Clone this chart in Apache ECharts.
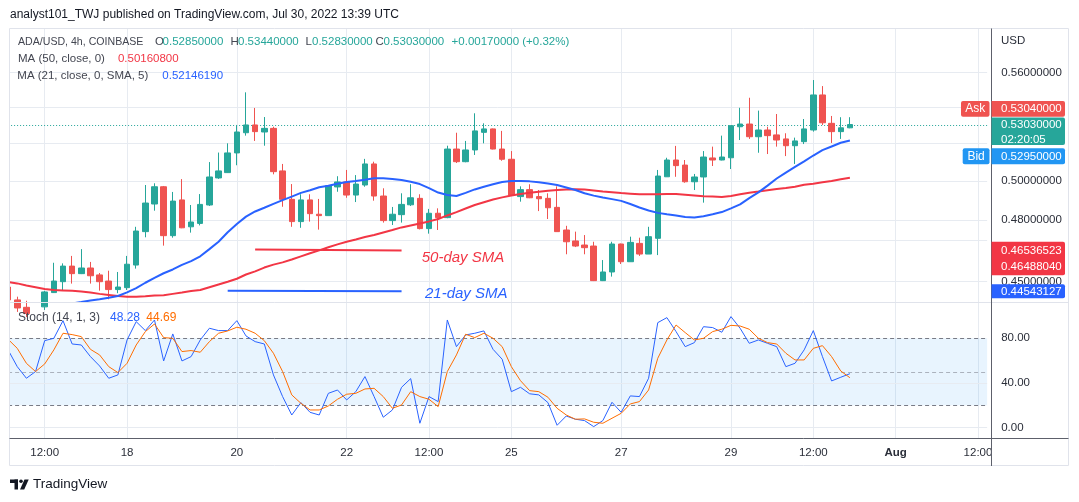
<!DOCTYPE html>
<html>
<head>
<meta charset="utf-8">
<title>ADA/USD 4h</title>
<script src="https://cdn.jsdelivr.net/npm/echarts@6/dist/echarts.min.js"></script>
<style>
html, body { margin: 0; padding: 0; background: #fff; }
#chart { width: 1079px; height: 502px; }
</style>
</head>
<body>
<div id="chart"></div>
<script>
var chartDom = document.getElementById('chart');
var myChart = echarts.init(chartDom);
var FONT = "'Liberation Sans', Arial, sans-serif";

// 4h candles (chart local time)
var startTime = Date.UTC(2022, 6, 15, 20);
var categories = [];
for (var k = 0; k < 108; k++) {
  categories.push(new Date(startTime + k * 4 * 3600 * 1000).toISOString().slice(0, 16).replace('T', ' '));
}

var tickTimes = ['2022-07-16 12:00', '2022-07-18 00:00', '2022-07-20 00:00', '2022-07-22 00:00',
  '2022-07-23 12:00', '2022-07-25 00:00', '2022-07-27 00:00', '2022-07-29 00:00',
  '2022-07-30 12:00', '2022-08-01 00:00', '2022-08-02 12:00'];
var tickText = ['12:00', '18', '20', '22', '12:00', '25', '27', '29', '12:00', 'Aug', '12:00'];

var open = [0.4474, 0.4414, 0.4380, 0.4350, 0.4382, 0.4448, 0.4499, 0.4573, 0.4537, 0.4564,
  0.4531, 0.4502, 0.4462, 0.4471, 0.4578, 0.4741, 0.4880, 0.4969, 0.4721, 0.4901,
  0.4765, 0.4782, 0.4875, 0.5015, 0.5043, 0.5148, 0.5258, 0.5301, 0.5262, 0.5282,
  0.5052, 0.4904, 0.4791, 0.4901, 0.4828, 0.4821, 0.4968, 0.4994, 0.4926, 0.4978,
  0.5089, 0.4921, 0.4796, 0.4826, 0.4876, 0.4909, 0.4756, 0.4833, 0.4811, 0.5169,
  0.5101, 0.5164, 0.5260, 0.5279, 0.5169, 0.5114, 0.4918, 0.4954, 0.4918, 0.4909,
  0.4863, 0.4749, 0.4695, 0.4675, 0.4670, 0.4504, 0.4545, 0.4680, 0.4594, 0.4683,
  0.4631, 0.4708, 0.5021, 0.5110, 0.5083, 0.4995, 0.5020, 0.5121, 0.5110, 0.5122,
  0.5291, 0.5306, 0.5236, 0.5273, 0.5246, 0.5224, 0.5187, 0.5209, 0.5273, 0.5470,
  0.5310, 0.5264, 0.5285];
var high = [0.4483, 0.4429, 0.4410, 0.4395, 0.4456, 0.4589, 0.4586, 0.4622, 0.4655, 0.4593,
  0.4540, 0.4551, 0.4545, 0.4622, 0.4765, 0.4978, 0.4987, 0.4973, 0.4942, 0.5009,
  0.4875, 0.4931, 0.5099, 0.5150, 0.5200, 0.5301, 0.5485, 0.5396, 0.5345, 0.5291,
  0.5089, 0.4983, 0.4930, 0.4930, 0.4906, 0.4974, 0.5024, 0.5057, 0.5030, 0.5116,
  0.5101, 0.4961, 0.4865, 0.4935, 0.4982, 0.4930, 0.4855, 0.4858, 0.5187, 0.5258,
  0.5213, 0.5366, 0.5310, 0.5281, 0.5268, 0.5158, 0.4971, 0.4982, 0.4952, 0.4935,
  0.4971, 0.4770, 0.4741, 0.4724, 0.4691, 0.4602, 0.4691, 0.4682, 0.4716, 0.4711,
  0.4765, 0.5057, 0.5122, 0.5186, 0.5110, 0.5036, 0.5158, 0.5182, 0.5242, 0.5297,
  0.5397, 0.5454, 0.5381, 0.5291, 0.5362, 0.5255, 0.5231, 0.5334, 0.5556, 0.5521,
  0.5351, 0.5344, 0.5344];
var low = [0.4395, 0.4359, 0.4336, 0.4322, 0.4368, 0.4446, 0.4458, 0.4490, 0.4535, 0.4490,
  0.4457, 0.4417, 0.4445, 0.4460, 0.4561, 0.4713, 0.4846, 0.4672, 0.4711, 0.4758,
  0.4736, 0.4772, 0.4870, 0.5010, 0.5041, 0.5082, 0.5242, 0.5213, 0.5187, 0.5034,
  0.4866, 0.4765, 0.4760, 0.4791, 0.4751, 0.4821, 0.4943, 0.4912, 0.4890, 0.4969,
  0.4897, 0.4786, 0.4774, 0.4786, 0.4870, 0.4752, 0.4731, 0.4749, 0.4808, 0.5094,
  0.5098, 0.5137, 0.5200, 0.5167, 0.5106, 0.4924, 0.4892, 0.4910, 0.4844, 0.4804,
  0.4741, 0.4630, 0.4665, 0.4630, 0.4502, 0.4502, 0.4523, 0.4583, 0.4594, 0.4622,
  0.4631, 0.4626, 0.5021, 0.5021, 0.4990, 0.4952, 0.4887, 0.5078, 0.5108, 0.5062,
  0.5218, 0.5224, 0.5149, 0.5142, 0.5182, 0.5131, 0.5089, 0.5196, 0.5264, 0.5301,
  0.5202, 0.5224, 0.5283];
var close = [0.4414, 0.4377, 0.4352, 0.4382, 0.4451, 0.4502, 0.4573, 0.4537, 0.4564, 0.4527,
  0.4499, 0.4462, 0.4474, 0.4582, 0.4744, 0.4885, 0.4969, 0.4721, 0.4895, 0.4760,
  0.4789, 0.4878, 0.5020, 0.5052, 0.5148, 0.5262, 0.5301, 0.5264, 0.5282, 0.5048,
  0.4904, 0.4791, 0.4901, 0.4831, 0.4821, 0.4974, 0.4994, 0.4926, 0.4983, 0.5089,
  0.4921, 0.4796, 0.4828, 0.4878, 0.4912, 0.4756, 0.4833, 0.4811, 0.5169, 0.5101,
  0.5164, 0.5268, 0.5279, 0.5169, 0.5114, 0.4926, 0.4954, 0.4912, 0.4907, 0.4861,
  0.4741, 0.4691, 0.4670, 0.4662, 0.4504, 0.4545, 0.4680, 0.4594, 0.4688, 0.4631,
  0.4716, 0.5025, 0.5110, 0.5080, 0.4995, 0.5020, 0.5126, 0.5110, 0.5126, 0.5297,
  0.5306, 0.5236, 0.5273, 0.5242, 0.5218, 0.5187, 0.5213, 0.5279, 0.5470, 0.5313,
  0.5264, 0.5285, 0.5303];

var ma50 = [0.4498, 0.4491, 0.4481, 0.4473, 0.4465, 0.4460, 0.4458, 0.4456, 0.4453, 0.4448,
  0.4442, 0.4437, 0.4432, 0.4429, 0.4429, 0.4431, 0.4434, 0.4436, 0.4442, 0.4448,
  0.4455, 0.4460, 0.4473, 0.4486, 0.4499, 0.4513, 0.4533, 0.4548, 0.4566, 0.4580,
  0.4591, 0.4605, 0.4620, 0.4635, 0.4649, 0.4664, 0.4678, 0.4691, 0.4702, 0.4714,
  0.4724, 0.4737, 0.4749, 0.4762, 0.4772, 0.4782, 0.4792, 0.4804, 0.4822, 0.4839,
  0.4857, 0.4875, 0.4889, 0.4903, 0.4914, 0.4924, 0.4931, 0.4938, 0.4943, 0.4948,
  0.4952, 0.4955, 0.4956, 0.4955, 0.4950, 0.4944, 0.4940, 0.4936, 0.4933, 0.4930,
  0.4930, 0.4930, 0.4931, 0.4932, 0.4928, 0.4924, 0.4920, 0.4918, 0.4916, 0.4921,
  0.4930, 0.4938, 0.4944, 0.4951, 0.4957, 0.4962, 0.4969, 0.4979, 0.4985, 0.4992,
  0.4999, 0.5008, 0.5016];
var ma21 = [0.4363, 0.4368, 0.4372, 0.4377, 0.4382, 0.4386, 0.4391, 0.4398, 0.4404, 0.4411,
  0.4417, 0.4424, 0.4432, 0.4449, 0.4469, 0.4494, 0.4517, 0.4539, 0.4557, 0.4579,
  0.4597, 0.4620, 0.4655, 0.4691, 0.4738, 0.4779, 0.4816, 0.4842, 0.4861, 0.4881,
  0.4900, 0.4918, 0.4937, 0.4951, 0.4966, 0.4974, 0.4985, 0.4994, 0.4999, 0.5005,
  0.5013, 0.5013, 0.5010, 0.5004, 0.4995, 0.4983, 0.4962, 0.4939, 0.4926, 0.4921,
  0.4937, 0.4955, 0.4969, 0.4982, 0.4994, 0.4999, 0.4999, 0.4997, 0.4993, 0.4986,
  0.4978, 0.4965, 0.4952, 0.4935, 0.4923, 0.4913, 0.4905, 0.4896, 0.4880, 0.4862,
  0.4847, 0.4835, 0.4828, 0.4822, 0.4814, 0.4812, 0.4818, 0.4828, 0.4839, 0.4858,
  0.4878, 0.4910, 0.4940, 0.4975, 0.5012, 0.5043, 0.5073, 0.5103, 0.5134, 0.5163,
  0.5183, 0.5203, 0.5215];

var stochK = [69.6, 54.6, 44.2, 50.2, 77.9, 80.0, 95.8, 74.9, 74.0, 63.6,
  55.2, 44.2, 47.2, 78.5, 94.9, 86.9, 96.4, 59.7, 83.9, 59.7,
  63.6, 78.5, 89.0, 86.9, 86.9, 95.8, 82.1, 77.0, 74.9, 47.2,
  27.8, 11.3, 22.4, 13.7, 11.3, 30.7, 33.7, 24.8, 32.2, 45.7,
  27.8, 9.3, 15.8, 36.1, 43.9, 3.9, 27.8, 23.3, 96.4, 72.5,
  83.0, 84.5, 86.6, 70.1, 61.2, 32.2, 36.1, 30.3, 29.3, 22.4,
  2.1, 10.4, 7.5, 6.3, 0.9, 6.3, 22.7, 13.7, 28.4, 27.8,
  44.2, 94.0, 98.5, 86.0, 72.5, 76.1, 90.4, 89.6, 85.4, 99.4,
  89.0, 75.5, 78.5, 75.5, 72.5, 54.6, 57.6, 69.6, 86.9, 63.6,
  41.8, 45.1, 48.28];
var stochD = [79.1, 71.0, 57.6, 50.2, 57.0, 69.6, 84.5, 83.3, 81.5, 70.1,
  65.1, 54.6, 49.3, 57.6, 74.0, 86.0, 92.8, 80.6, 80.0, 68.1,
  69.0, 67.5, 77.0, 84.5, 86.6, 89.9, 88.1, 84.5, 77.9, 66.6,
  50.2, 29.3, 21.8, 15.8, 15.8, 19.4, 25.4, 29.9, 30.7, 34.6,
  35.2, 27.8, 17.3, 20.3, 32.2, 27.8, 25.4, 18.8, 50.2, 65.1,
  83.6, 80.6, 84.5, 80.0, 72.5, 54.6, 42.0, 33.1, 32.2, 27.2,
  17.3, 11.3, 7.5, 7.8, 4.8, 3.9, 8.4, 12.8, 21.2, 23.3,
  33.7, 62.1, 78.5, 91.9, 85.1, 78.5, 80.0, 86.0, 88.1, 91.6,
  91.0, 88.1, 80.0, 76.1, 74.9, 66.6, 60.6, 60.6, 71.0, 73.4,
  63.6, 50.7, 44.69];

var priceTicks = [0.56, 0.54, 0.52, 0.50, 0.48, 0.465, 0.45];
var priceTickLabel = [true, false, false, true, true, false, true];
var stochTicks = [0, 40, 80];
var stochLevels = [80, 50, 20];

var lastPrice = 0.5303, askPrice = 0.5304, bidPrice = 0.5295;
var redTrend = [[27, 0.46536523], [43, 0.46488040]];
var blueTrend = [[24, 0.44570000], [43, 0.44543127]];

var candles = [];
for (var i = 0; i < open.length; i++) {
  candles.push([open[i], close[i], low[i], high[i]]);
}

var tickMap = {};
tickTimes.forEach(function (t, j) { tickMap[t] = tickText[j]; });
function isTick(index, value) { return tickMap.hasOwnProperty(value); }

var GRID = '#e7ebf1';
var AXIS_TEXT = '#2a2e39';

var priceMarks = priceTicks.map(function (v, j) {
  return {
    yAxis: v,
    lineStyle: { color: GRID, type: 'solid', width: 1 },
    label: { show: priceTickLabel[j], formatter: v.toFixed(8) }
  };
});
priceMarks.push({
  yAxis: lastPrice,
  lineStyle: { color: '#26a69a', type: [1, 2], width: 1 },
  label: { show: false }
});

var stochMarks = stochTicks.map(function (v) {
  return {
    yAxis: v,
    lineStyle: { color: v === 80 ? 'rgba(0,0,0,0)' : GRID, type: 'solid', width: 1 },
    label: { show: true, formatter: v.toFixed(2) }
  };
});
stochLevels.forEach(function (v) {
  stochMarks.push({
    yAxis: v,
    lineStyle: { color: v === 50 ? 'rgba(120,123,134,0.55)' : '#787b86', type: [4, 3], width: 1 },
    label: { show: false }
  });
});

var markLabel = { position: 'end', distance: 14, color: AXIS_TEXT, fontSize: 11.5, fontFamily: FONT };

option = {
  animation: false,
  grid: [
    { left: 8.1, right: 91.85, top: 28.5, height: 273.5 },
    { left: 8.1, right: 91.85, top: 303, height: 135 }
  ],
  xAxis: [
    {
      type: 'category', gridIndex: 0, data: categories, boundaryGap: false,
      axisLine: { show: false }, axisTick: { show: false }, axisLabel: { show: false },
      splitLine: { show: true, interval: isTick, lineStyle: { color: GRID } }
    },
    {
      type: 'category', gridIndex: 1, data: categories, boundaryGap: false,
      axisLine: { show: false }, axisTick: { show: false },
      axisLabel: {
        show: true, interval: isTick, margin: 9,
        color: AXIS_TEXT, fontSize: 11.5, fontFamily: FONT,
        formatter: function (value) {
          var t = tickMap[value] || '';
          return t === 'Aug' ? '{b|Aug}' : t;
        },
        rich: { b: { fontWeight: 'bold', color: AXIS_TEXT, fontSize: 11.5, fontFamily: FONT } }
      },
      splitLine: { show: true, interval: isTick, lineStyle: { color: GRID } }
    }
  ],
  yAxis: [
    {
      type: 'log', logBase: 10, gridIndex: 0, position: 'right', min: 0.44044, max: 0.58639,
      axisLine: { show: false }, axisTick: { show: false }, axisLabel: { show: false }, splitLine: { show: false }
    },
    {
      type: 'value', gridIndex: 1, position: 'right', min: -9.3, max: 111.6,
      axisLine: { show: false }, axisTick: { show: false }, axisLabel: { show: false }, splitLine: { show: false }
    }
  ],
  series: [
    {
      type: 'candlestick', xAxisIndex: 0, yAxisIndex: 0, data: candles, barWidth: 6, clip: true,
      itemStyle: { color: '#26a69a', color0: '#ef5350', borderColor: '#26a69a', borderColor0: '#ef5350', borderWidth: 1 },
      markLine: { silent: true, z: 1, symbol: ['none', 'none'], label: markLabel, data: priceMarks }
    },
    {
      type: 'line', xAxisIndex: 0, yAxisIndex: 0, data: ma50, z: 3, showSymbol: false, clip: true,
      lineStyle: { color: '#f23645', width: 2 }
    },
    {
      type: 'line', xAxisIndex: 0, yAxisIndex: 0, data: ma21, z: 3, showSymbol: false, clip: true,
      lineStyle: { color: '#2962ff', width: 2 }
    },
    {
      type: 'line', xAxisIndex: 0, yAxisIndex: 0, data: redTrend, z: 3, showSymbol: false,
      lineStyle: { color: '#f23645', width: 2 }
    },
    {
      type: 'line', xAxisIndex: 0, yAxisIndex: 0, data: blueTrend, z: 3, showSymbol: false,
      lineStyle: { color: '#2962ff', width: 2 }
    },
    {
      type: 'line', xAxisIndex: 1, yAxisIndex: 1, data: stochK, z: 3, showSymbol: false, clip: true,
      lineStyle: { color: '#2962ff', width: 1 },
      markArea: { silent: true, z: 0, itemStyle: { color: 'rgba(33,150,243,0.1)' }, data: [[{ yAxis: 20 }, { yAxis: 80 }]] },
      markLine: { silent: true, z: 1, symbol: ['none', 'none'], label: markLabel, data: stochMarks }
    },
    {
      type: 'line', xAxisIndex: 1, yAxisIndex: 1, data: stochD, z: 3, showSymbol: false, clip: true,
      lineStyle: { color: '#ff6d00', width: 1 }
    }
  ]
};
myChart.setOption(option);

// overlay: frame, legends, price tags, footer
function txt(x, y, s, color, size, extra) {
  var st = {
    x: x, y: y, text: s, fill: color, fontSize: size, fontFamily: FONT,
    align: 'left', verticalAlign: 'middle', textAlign: 'left', textVerticalAlign: 'middle'
  };
  if (extra) { for (var key in extra) { st[key] = extra[key]; } }
  return { type: 'text', z: 101, silent: true, style: st };
}
function box(x, y, w, h, color, r) {
  return { type: 'rect', z: 100, silent: true, shape: { x: x, y: y, width: w, height: h, r: r || 0 }, style: { fill: color } };
}
function line(x1, y1, x2, y2, color) {
  return { type: 'line', z: 99, silent: true, shape: { x1: x1, y1: y1, x2: x2, y2: y2 }, style: { stroke: color, lineWidth: 1 } };
}
var yAt = function (v) { return myChart.convertToPixel({ yAxisIndex: 0 }, v); };
var yCur = yAt(lastPrice);
var yRed = yAt(redTrend[0][1]);
var yBlue = yAt(blueTrend[1][1]);
var W = '#ffffff', LBL = '#434651', UP = '#26a69a';
var tagR = [0, 2, 2, 0];

var g = [
  box(0, 20, 9, 450, '#ffffff'),
  { type: 'rect', z: 99, silent: true, shape: { x: 9.5, y: 28.5, width: 1059, height: 437 }, style: { fill: 'none', stroke: '#e0e3eb', lineWidth: 1 } },
  line(9.5, 302.5, 1068.5, 302.5, '#e0e3eb'),
  line(991.5, 28.5, 991.5, 466, '#5d606b'),
  line(9.5, 438.5, 1068.5, 438.5, '#5d606b'),
  txt(10, 15, 'analyst101_TWJ published on TradingView.com, Jul 30, 2022 13:39 UTC', '#131722', 12),
  txt(18, 42, 'ADA/USD, 4h, COINBASE', LBL, 10.6),
  txt(155, 42, 'O', LBL, 11.5), txt(162.6, 42, '0.52850000', UP, 11.5),
  txt(230.5, 42, 'H', LBL, 11.5), txt(238, 42, '0.53440000', UP, 11.5),
  txt(305.5, 42, 'L', LBL, 11.5), txt(312, 42, '0.52830000', UP, 11.5),
  txt(375.5, 42, 'C', LBL, 11.5), txt(383.5, 42, '0.53030000', UP, 11.5),
  txt(451.6, 42, '+0.00170000 (+0.32%)', UP, 11.5),
  txt(18, 59, 'MA (50, close, 0)', LBL, 11.5), txt(117.9, 59, '0.50160800', '#f23645', 11.5),
  txt(17.3, 76, 'MA (21, close, 0, SMA, 5)', LBL, 11.5), txt(162.3, 76, '0.52146190', '#2962ff', 11.5),
  txt(17.9, 317.5, 'Stoch (14, 1, 3)', LBL, 12), txt(110, 317.5, '48.28', '#2962ff', 12), txt(146.3, 317.5, '44.69', '#ff6d00', 12),
  txt(421.7, 257.5, '50-day SMA', '#f23645', 15, { fontStyle: 'italic' }),
  txt(425, 293.5, '21-day SMA', '#2962ff', 15, { fontStyle: 'italic' }),
  txt(1001, 40.5, 'USD', AXIS_TEXT, 11.5),

  box(961, yCur - 23.6, 28.5, 15.7, '#ef5350', 2), txt(975.2, yCur - 15.6, 'Ask', W, 12, { align: 'center', textAlign: 'center' }),
  box(991.5, yCur - 23.6, 73.5, 15.7, '#ef5350', tagR), txt(1001, yCur - 15.6, askPrice.toFixed(8), W, 11.5),
  box(991.5, yCur - 7, 73.5, 27.5, UP, tagR), txt(1001, yCur + 0.6, lastPrice.toFixed(8), W, 11.5), txt(1001, yCur + 15, '02:20:05', W, 11.5),
  box(962.7, yCur + 23.7, 26.8, 16, '#2196f3', 2), txt(976.1, yCur + 31.8, 'Bid', W, 12, { align: 'center', textAlign: 'center' }),
  box(991.5, yCur + 23.7, 73.5, 16, '#2196f3', tagR), txt(1001, yCur + 31.8, bidPrice.toFixed(8), W, 11.5),
  box(991.5, yRed - 7.6, 73.5, 33.4, '#f23645', tagR), txt(1001, yRed + 1, redTrend[0][1].toFixed(8), W, 11.5), txt(1001, yRed + 17, redTrend[1][1].toFixed(8), W, 11.5),
  box(991.5, yBlue - 7, 73.5, 14, '#2962ff', tagR), txt(1001, yBlue + 0.5, blueTrend[1][1].toFixed(8), W, 11.5),

  box(10, 479.5, 8, 3.5, '#131722'),
  box(14.5, 479.5, 3.5, 10, '#131722'),
  { type: 'circle', z: 100, silent: true, shape: { cx: 21, cy: 481.3, r: 1.8 }, style: { fill: '#131722' } },
  { type: 'polygon', z: 100, silent: true, shape: { points: [[24.5, 479.5], [28.7, 479.5], [24.2, 489.5], [20, 489.5]] }, style: { fill: '#131722' } },
  txt(33, 484.5, 'TradingView', '#131722', 13.5)
];
myChart.setOption({ graphic: g });
</script>
</body>
</html>
